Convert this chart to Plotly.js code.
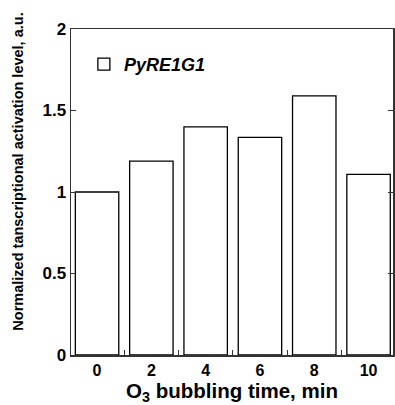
<!DOCTYPE html>
<html>
<head>
<meta charset="utf-8">
<script src="https://cdn.plot.ly/plotly-3.0.1.min.js"></script>
<style>html,body{margin:0;padding:0;background:#fff;}#chart{width:395px;height:405px;}</style>
</head>
<body>
<div id="chart"></div>
<script>
const times = [0, 2, 4, 6, 8, 10];
const activation = [1.00, 1.19, 1.40, 1.335, 1.59, 1.108];
const xTickLabels = ['0', '2', '4', '6', '8', '10'];
const yTickVals = [0, 0.5, 1, 1.5, 2];
const yTickLabels = ['0', '0.5', '1', '1.5', '2'];
const seriesName = 'PyRE1G1';
const xTitle = 'O<sub>3</sub> bubbling time, min';
const yTitle = 'Normalized tanscriptional activation level, a.u.';

const FAM = 'Arial, Liberation Sans, sans-serif';

const trace = {
  type: 'bar',
  x: times,
  y: activation,
  name: '<b><i>' + seriesName + '</i></b>',
  width: 1.6,
  marker: {color: '#ffffff', line: {color: '#000000', width: 1.3}},
  showlegend: true
};

const xTickFont = {family: FAM, size: 16, color: '#000', weight: 700};
const yTickFont = {family: FAM, size: 17, color: '#000', weight: 700};

const layout = {
  width: 395, height: 405,
  margin: {l: 71, r: 2, t: 29, b: 50},
  paper_bgcolor: '#fff', plot_bgcolor: '#fff',
  showlegend: true,
  legend: {x: 0.04, y: 0.948, xanchor: 'left', yanchor: 'top', bgcolor: 'rgba(0,0,0,0)',
           font: {family: FAM, size: 18, color: '#000', weight: 700}},
  xaxis: {
    range: [-0.96, 10.9],
    tickvals: times, ticktext: xTickLabels.map(t => '<b>' + t + '</b>'),
    ticks: '', showgrid: false, zeroline: false,
    showline: true, linecolor: '#333', linewidth: 1.5, mirror: true,
    tickfont: xTickFont,
    minor: {tick0: 1, dtick: 2, ticks: 'inside', ticklen: 5, tickcolor: '#333', showgrid: false},
    title: {text: '<b>' + xTitle + '</b>', font: {family: FAM, size: 20.5, color: '#000', weight: 700}, standoff: 6}
  },
  yaxis: {
    range: [0, 2],
    tickvals: yTickVals, ticktext: yTickLabels.map(t => '<b>' + t + '</b>'),
    ticks: 'inside', ticklen: 5, tickcolor: '#333', tickwidth: 1,
    showgrid: false, zeroline: false,
    showline: true, linecolor: '#333', linewidth: 1.5, mirror: 'ticks',
    tickfont: yTickFont
  },
  annotations: [{
    text: '<b>' + yTitle + '</b>', textangle: -90,
    xref: 'paper', yref: 'paper', x: -0.163, y: 0.561,
    xanchor: 'center', yanchor: 'middle', showarrow: false,
    font: {family: FAM, size: 14.5, color: '#000', weight: 700}
  }]
};

Plotly.newPlot('chart', [trace], layout, {displayModeBar: false, staticPlot: true});
</script>
</body>
</html>
